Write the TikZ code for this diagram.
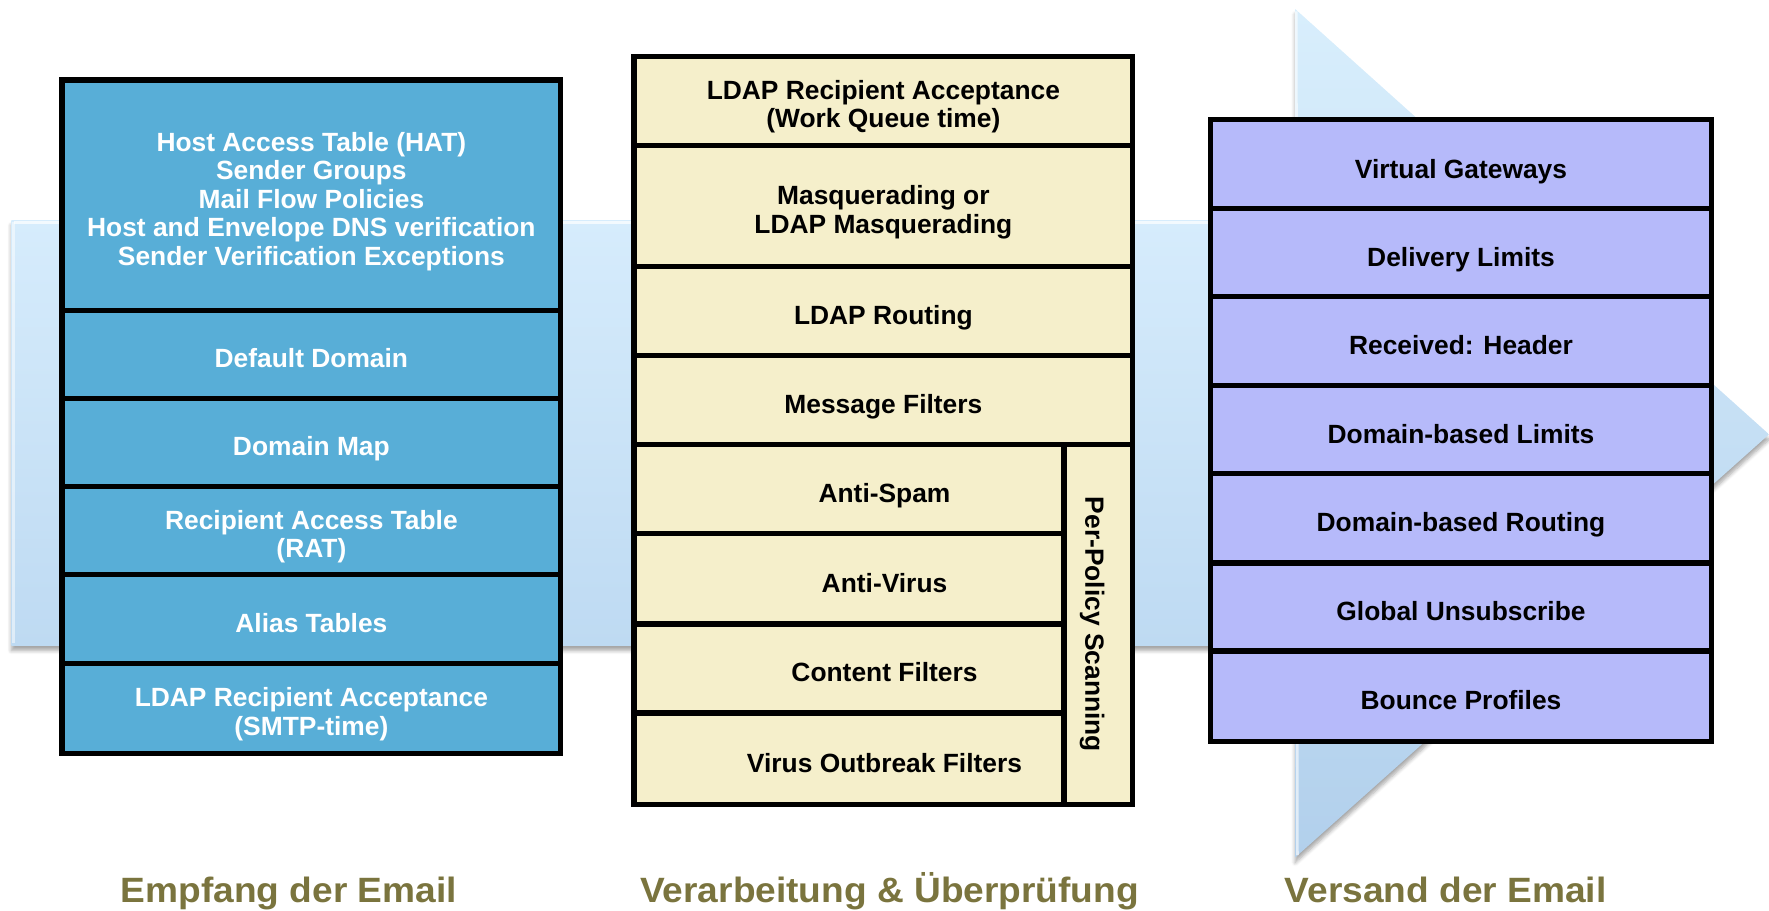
\documentclass[tikz,border=0pt]{standalone}
\usepackage{fontspec}
\setmainfont{Liberation Sans}
\newfontfamily\capsans{Liberation Sans}[FakeStretch=1.055]
\usetikzlibrary{shadows.blur}
% keep the fixed line pitch in the stacked labels
\setlength{\lineskiplimit}{-20pt}

\definecolor{recvblue}{RGB}{88,174,215}
\definecolor{proccream}{RGB}{245,239,203}
\definecolor{sendlav}{RGB}{182,186,250}
\definecolor{phaseolive}{RGB}{122,116,62}
\definecolor{bandtop}{RGB}{214,236,252}
\definecolor{bandbot}{RGB}{190,218,242}
\definecolor{headtop}{RGB}{216,238,252}
\definecolor{headbot}{RGB}{178,208,236}

\tikzset{
  cell/.style 2 args={draw=black, line width=3pt,
    minimum width=#1*0.02256cm, minimum height=#2*0.02256cm,
    anchor=north west, inner sep=0pt, outer sep=0pt},
  recv/.style={fill=recvblue},
  proc/.style={fill=proccream},
  send/.style={fill=sendlav},
  % cell text; single lines get a box of capital height
  lbl/.style={inner sep=0pt, align=center,
    font=\bfseries\fontsize{15pt}{16.2pt}\selectfont},
  oneline/.style={lbl, text height=10.75pt, text depth=0pt},
  twoline/.style={lbl, yshift=-1.3pt},
  ontblue/.style={text=white},
  phase/.style={text=phaseolive, anchor=base, inner sep=0pt,
    font=\capsans\bfseries\fontsize{20pt}{22pt}\selectfont},
}

\begin{document}
\begin{tikzpicture}[x=0.02256cm, y=-0.02256cm]
  \useasboundingbox (0,0) rectangle (1568,807);

  % flow band behind the columns
  \shade[top color=bandtop, bottom color=bandbot,
         blur shadow={shadow xshift=0pt, shadow yshift=-3pt, shadow opacity=35, shadow blur steps=6}]
    (10,195) rectangle (1200,572);
  \draw[white, opacity=0.7, line width=2pt] (12,197) -- (1200,197);
  \draw[white, opacity=0.5, line width=2pt] (12,197) -- (12,570);

  % arrow head
  \shade[top color=headtop, bottom color=headbot,
         blur shadow={shadow xshift=0pt, shadow yshift=-3pt, shadow opacity=35, shadow blur steps=6}]
    (1148,8) -- (1568,385) -- (1148,760) -- cycle;
  \draw[white, opacity=0.6, line width=1.5pt] (1149,10) -- (1150,758);

  % receiving column
  \node[cell={442}{204}, recv] (hat) at (55,71) {};
  \node[cell={442}{78}, recv] (defdom) at (55,275) {};
  \node[cell={442}{78}, recv] (dommap) at (55,353) {};
  \node[cell={442}{78}, recv] (rat) at (55,431) {};
  \node[cell={442}{79}, recv] (alias) at (55,509) {};
  \node[cell={442}{80}, recv] (ldapsmtp) at (55,588) {};

  \node[twoline, ontblue] (hatt) at (276,176.5)
    {Host Access Table (HAT)\\Sender Groups\\Mail Flow Policies\\Host and Envelope DNS verification\\Sender Verification Exceptions};
  \node[oneline, ontblue] (defdomt) at (276,317.5) {Default Domain};
  \node[oneline, ontblue] (dommapt) at (276,395.5) {Domain Map};
  \node[twoline, ontblue] (ratt) at (276,473.5) {Recipient Access Table\\(RAT)};
  \node[oneline, ontblue] (aliast) at (276,552) {Alias Tables};
  \node[twoline, ontblue] (ldapsmtpt) at (276,631) {LDAP Recipient Acceptance\\(SMTP-time)};

  % processing column
  \node[cell={442}{79}, proc] (ldapwq) at (562,50) {};
  \node[cell={442}{107}, proc] (masq) at (562,129) {};
  \node[cell={442}{79}, proc] (ldaprt) at (562,236) {};
  \node[cell={442}{79}, proc] (msgf) at (562,315) {};
  \node[cell={381}{79}, proc] (spam) at (562,394) {};
  \node[cell={381}{80}, proc] (virus) at (562,473) {};
  \node[cell={381}{79}, proc] (cntf) at (562,553) {};
  \node[cell={381}{81}, proc] (vof) at (562,632) {};
  \node[cell={61}{319}, proc] (policy) at (943,394) {};

  \node[twoline] (ldapwqt) at (783,92.5) {LDAP Recipient Acceptance\\(Work Queue time)};
  \node[twoline] (masqt) at (783,186) {Masquerading or\\LDAP Masquerading};
  \node[oneline] (ldaprtt) at (783,279) {LDAP Routing};
  \node[oneline] (msgft) at (783,358) {Message Filters};
  \node[oneline] (spamt) at (784,437) {Anti-Spam};
  \node[oneline] (virust) at (784,516.5) {Anti-Virus};
  \node[oneline] (cntft) at (784,596) {Content Filters};
  \node[oneline] (voft) at (784,676) {Virus Outbreak Filters};
  \node[oneline, rotate=-90] (policyt) at (970.5,553.5) {Per-Policy Scanning};

  % sending column
  \node[cell={444}{79}, send] (vgw) at (1073,106) {};
  \node[cell={444}{78}, send] (dlim) at (1073,185) {};
  \node[cell={444}{79}, send] (rcvh) at (1073,263) {};
  \node[cell={444}{78}, send] (dblim) at (1073,342) {};
  \node[cell={444}{79}, send] (dbrt) at (1073,420) {};
  \node[cell={444}{78}, send] (gunsub) at (1073,499) {};
  \node[cell={444}{80}, send] (bounce) at (1073,577) {};

  \node[oneline] (vgwt) at (1295,149.5) {Virtual Gateways};
  \node[oneline] (dlimt) at (1295,227.5) {Delivery Limits};
  \node[oneline] (rcvht) at (1295,306) {Received: Header};
  \node[oneline] (dblimt) at (1295,384.5) {Domain-based Limits};
  \node[oneline] (dbrtt) at (1295,463) {Domain-based Routing};
  \node[oneline] (gunsubt) at (1295,541.5) {Global Unsubscribe};
  \node[oneline] (bouncet) at (1295,620.5) {Bounce Profiles};

  % phase captions
  \node[phase] (phrecv) at (256,800) {Empfang der Email};
  \node[phase] (phproc) at (788.5,800) {Verarbeitung \& Überprüfung};
  \node[phase] (phsend) at (1281.5,800) {Versand der Email};
\end{tikzpicture}
\end{document}
